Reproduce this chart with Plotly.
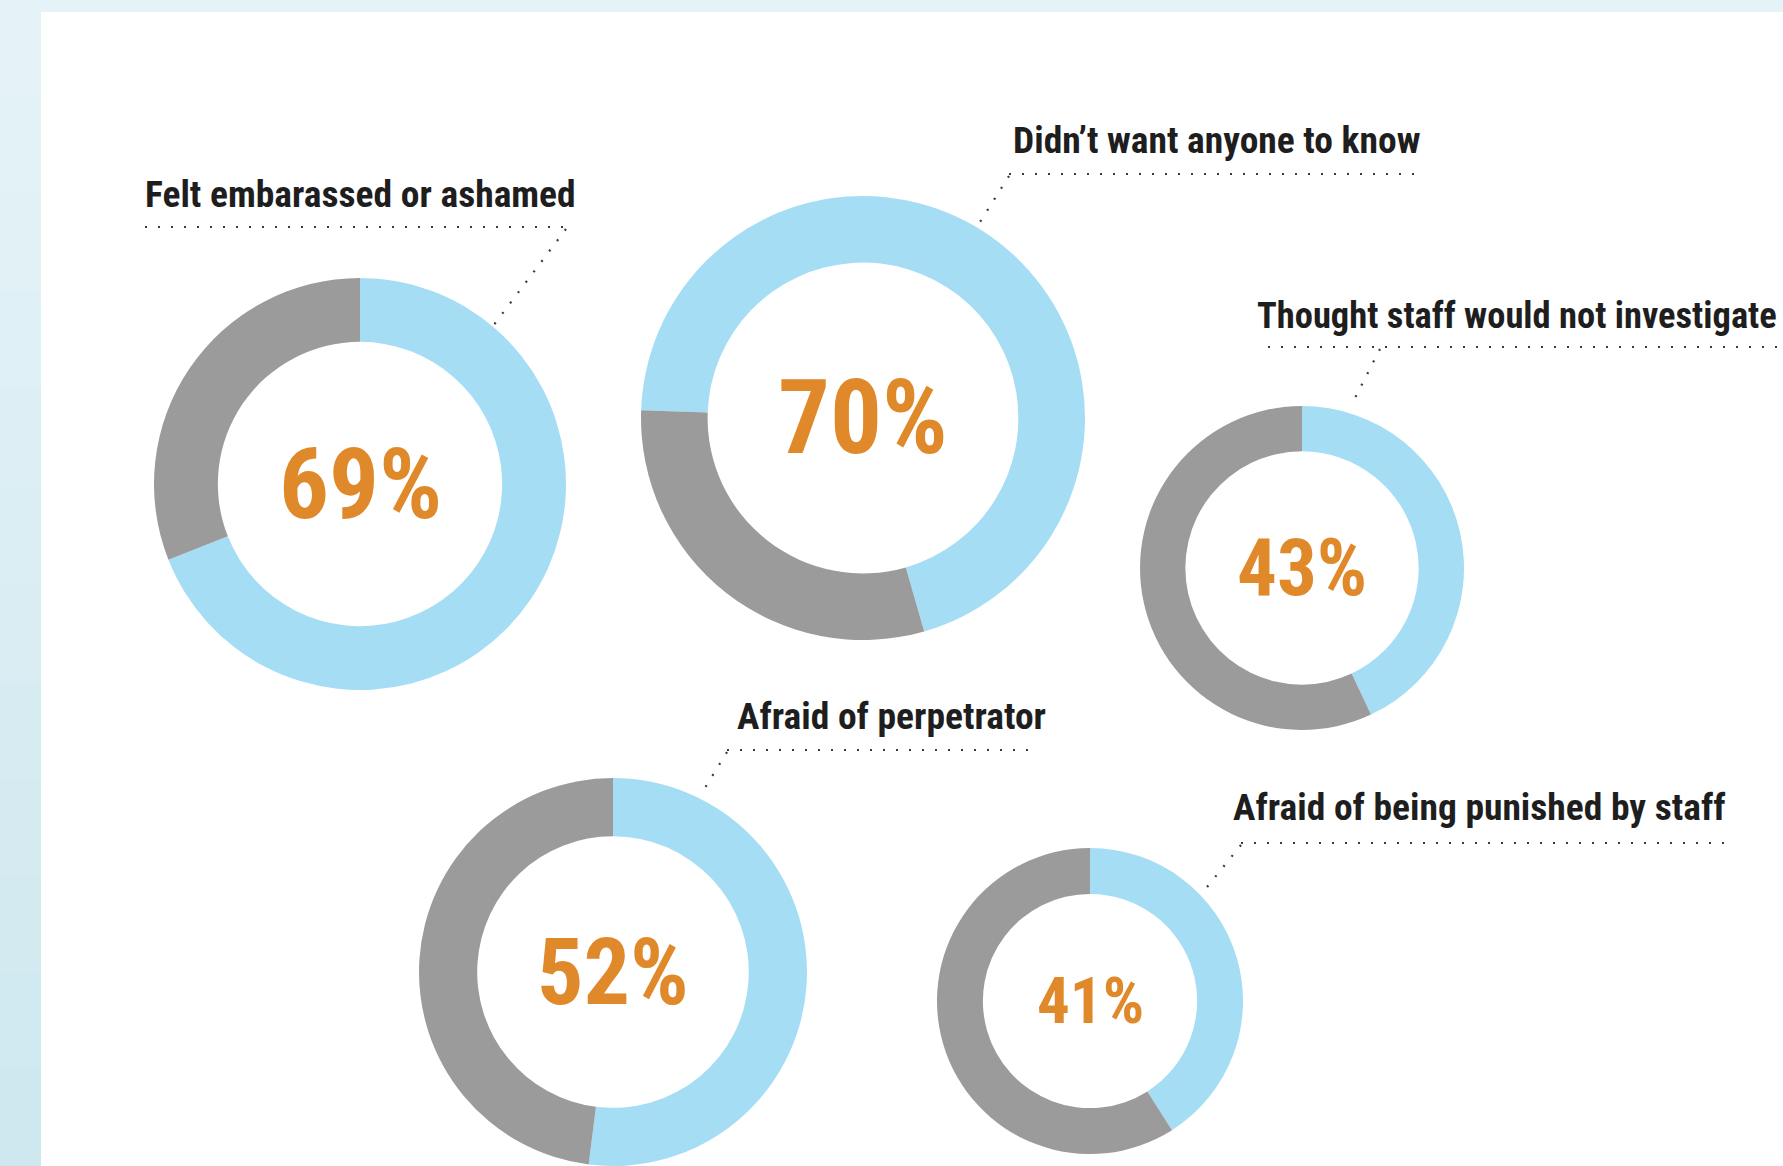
import plotly.graph_objects as go

# ---------------- data ----------------
categories = [
    "Felt embarassed or ashamed",
    "Didn’t want anyone to know",
    "Thought staff would not investigate",
    "Afraid of perpetrator",
    "Afraid of being punished by staff",
]
percentages = [69, 70, 43, 52, 41]

# ---------------- layout geometry (pixels) ----------------
W, H = 1783, 1166
centers = [(360, 484), (863, 418), (1302, 568), (613, 972), (1090, 1001)]
radii = [206, 222, 162, 194, 153]
holes = [0.69, 0.70, 0.72, 0.70, 0.70]
rotations = [0, -88, 0, 0, 0]
pct_sizes = [99, 103, 79, 92, 65]
label_sizes = [37.5, 37.5, 36.5, 37.5, 37.5]
label_pos = [(143, 194), (1011, 140), (1255, 315), (735, 716), (1231, 807)]
underlines = [(145, 569, 227), (1009, 1417, 174), (1268, 1783, 347), (727, 1038, 750), (1241, 1732, 843)]
leaders = [((566, 229), (490, 330)), ((1009, 176), (980, 222)), ((1380, 349), (1352, 404)),
           ((727, 752), (700, 796)), ((1241, 845), (1203, 892))]

BLUE = "#A5DDF5"
GRAY = "#9B9B9B"
ORANGE = "#E0892A"
INK = "#1E1E1E"
FONT = ("Roboto Condensed, Open Sans Condensed, Liberation Sans Narrow, Arial Narrow, "
        "DejaVu Sans Condensed, sans-serif")


def px(x):
    return x / W


def py(y):
    return 1 - y / H


fig = go.Figure()

for cat, pct, (cx, cy), r, hole, rot in zip(categories, percentages, centers, radii, holes, rotations):
    fig.add_trace(go.Pie(
        values=[pct, 100 - pct],
        labels=[cat, "other"],
        marker=dict(colors=[BLUE, GRAY], line=dict(width=0)),
        hole=hole,
        sort=False,
        direction="clockwise",
        rotation=rot,
        textinfo="none",
        hoverinfo="label+value",
        showlegend=False,
        domain=dict(x=[px(cx - r), px(cx + r)], y=[py(cy + r), py(cy - r)]),
    ))

shapes = []
# background: light blue frame with subtle vertical gradient on the left strip
bands = 12
for i in range(bands):
    t = i / (bands - 1)
    c0 = (0xE5, 0xF3, 0xF8)
    c1 = (0xCF, 0xE8, 0xEF)
    col = "rgb(%d,%d,%d)" % tuple(round(a + (b - a) * t) for a, b in zip(c0, c1))
    shapes.append(dict(type="rect", xref="paper", yref="paper", layer="below",
                       x0=0, x1=px(41), y0=py(H * (i + 1) / bands), y1=py(H * i / bands),
                       fillcolor=col, line=dict(width=0)))
shapes.append(dict(type="rect", xref="paper", yref="paper", layer="below",
                   x0=px(41), x1=1, y0=py(12), y1=1, fillcolor="#E5F3F8", line=dict(width=0)))
shapes.append(dict(type="rect", xref="paper", yref="paper", layer="below",
                   x0=px(41), x1=1, y0=0, y1=py(12), fillcolor="#FFFFFF", line=dict(width=0)))

dot = dict(color="#3A3A3A", width=2.2, dash="2px,11px")
for (x0, x1, y) in underlines:
    shapes.append(dict(type="line", xref="paper", yref="paper",
                       x0=px(x0), x1=px(x1), y0=py(y), y1=py(y), line=dot))
for (a, b) in leaders:
    shapes.append(dict(type="line", xref="paper", yref="paper",
                       x0=px(a[0]), y0=py(a[1]), x1=px(b[0]), y1=py(b[1]), line=dot))

annotations = []
for cat, (lx, ly), fs in zip(categories, label_pos, label_sizes):
    annotations.append(dict(text=cat, x=px(lx), y=py(ly), xref="paper", yref="paper",
                            xanchor="left", yanchor="middle", showarrow=False,
                            font=dict(family=FONT, size=fs, color=INK, weight="bold")))
for pct, (cx, cy), fs in zip(percentages, centers, pct_sizes):
    annotations.append(dict(text=f"{pct}%", x=px(cx), y=py(cy), xref="paper", yref="paper",
                            xanchor="center", yanchor="middle", showarrow=False,
                            font=dict(family=FONT, size=fs, color=ORANGE, weight="bold")))

fig.update_layout(
    width=W, height=H,
    margin=dict(l=0, r=0, t=0, b=0, pad=0),
    paper_bgcolor="#E5F3F8",
    plot_bgcolor="#FFFFFF",
    shapes=shapes,
    annotations=annotations,
    showlegend=False,
)

fig.write_html("out.html", config={"displayModeBar": False})
